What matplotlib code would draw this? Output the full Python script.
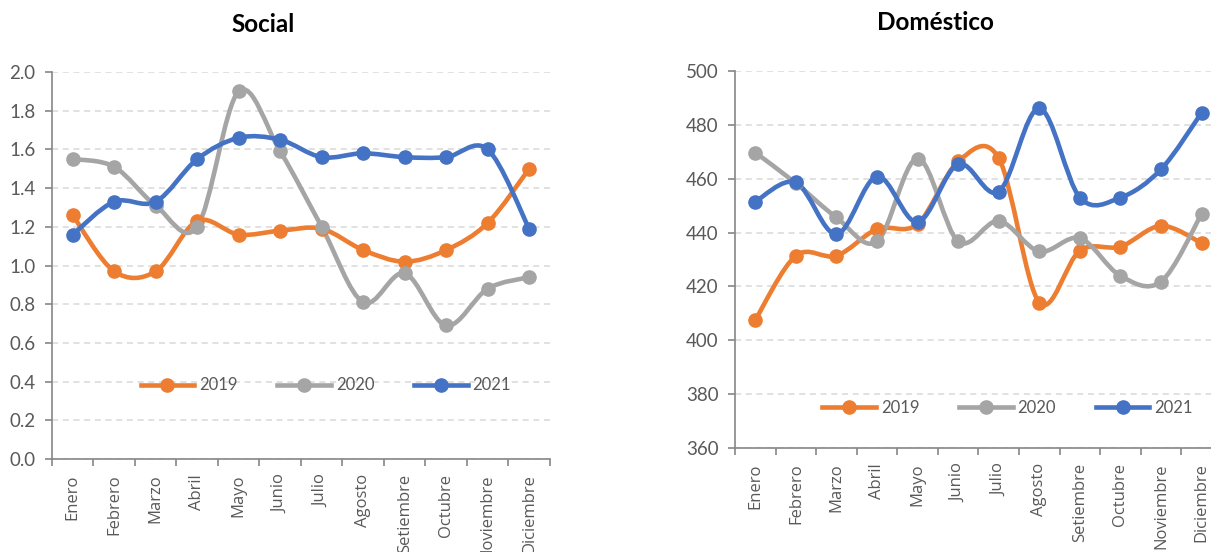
import matplotlib
matplotlib.use('Agg')
import matplotlib.pyplot as plt
from matplotlib.path import Path
from matplotlib.patches import PathPatch
from matplotlib.lines import Line2D
import numpy as np

plt.rcParams['font.family'] = ['Lato', 'DejaVu Sans']

meses = ['Enero', 'Febrero', 'Marzo', 'Abril', 'Mayo', 'Junio', 'Julio',
         'Agosto', 'Setiembre', 'Octubre', 'Noviembre', 'Diciembre']
anios = ['2019', '2020', '2021']

social_2019 = [1.26, 0.97, 0.97, 1.23, 1.16, 1.18, 1.19, 1.08, 1.02, 1.08, 1.22, 1.50]
social_2020 = [1.55, 1.51, 1.31, 1.20, 1.90, 1.59, 1.20, 0.81, 0.96, 0.69, 0.88, 0.94]
social_2021 = [1.16, 1.33, 1.33, 1.55, 1.66, 1.65, 1.56, 1.58, 1.56, 1.56, 1.60, 1.19]

dom_2019 = [407.6, 431.4, 431.4, 441.3, 443.2, 466.4, 467.6, 414.0, 433.3, 434.8, 442.5, 436.1]
dom_2020 = [469.7, 458.3, 445.6, 436.7, 467.5, 436.7, 444.3, 433.0, 437.9, 423.9, 421.8, 446.9]
dom_2021 = [451.5, 458.6, 439.4, 460.8, 443.9, 465.4, 455.2, 486.1, 453.0, 453.0, 463.5, 484.5]

colores = ['#ED7D31', '#A5A5A5', '#4472C4']
GRIS_TXT = '#595959'
GRIS_EJE = '#868686'


def smooth_path(x, y):
    # bezier tipo Excel (catmull-rom)
    pts = np.column_stack([x, y]).astype(float)
    n = len(pts)
    verts = [pts[0]]
    codes = [Path.MOVETO]
    for i in range(n - 1):
        p0 = pts[i - 1] if i > 0 else pts[i]
        p1 = pts[i]
        p2 = pts[i + 1]
        p3 = pts[i + 2] if i + 2 < n else pts[i + 1]
        c1 = p1 + (p2 - p0) / 6.0
        c2 = p2 - (p3 - p1) / 6.0
        verts += [c1, c2, p2]
        codes += [Path.CURVE4] * 3
    return Path(verts, codes)


def dibujar(ax, series, ylim, step, fmt, legend_xy):
    x = np.arange(len(meses))
    for vals, c in zip(series, colores):
        ax.add_patch(PathPatch(smooth_path(x, vals), facecolor='none',
                               edgecolor=c, lw=3.3, capstyle='round',
                               joinstyle='round'))
        ax.plot(x, vals, 'o', color=c, ms=9.5)
    ax.set_xlim(-0.5, len(meses) - 0.5)
    ax.set_ylim(*ylim)
    yt = np.arange(ylim[0], ylim[1] + step / 2, step)
    ax.set_yticks(yt)
    ax.set_yticklabels([fmt.format(v) for v in yt], fontsize=13.5, color=GRIS_TXT)
    ax.set_xticks(x)
    ax.set_xticklabels(meses, rotation=90, fontsize=12, color=GRIS_TXT,
                       family=['Open Sans', 'DejaVu Sans'])
    ax.set_xticks(np.arange(-0.5, len(meses)), minor=True)
    ax.tick_params(axis='x', which='major', length=0, pad=11)
    ax.tick_params(axis='x', which='minor', length=5, color=GRIS_EJE, width=1.2)
    ax.tick_params(axis='y', length=5, color=GRIS_EJE, width=1.2, pad=7)
    ax.grid(axis='y', color='#D9D9D9', ls=(0, (4, 3)), lw=1.1)
    ax.set_axisbelow(True)
    for s in ['top', 'right']:
        ax.spines[s].set_visible(False)
    for s in ['left', 'bottom']:
        ax.spines[s].set_color(GRIS_EJE)
        ax.spines[s].set_linewidth(1.2)
    handles = [Line2D([], [], color=c, lw=3.3, marker='o', ms=9.5) for c in colores]
    ax.legend(handles, anios, loc='center', bbox_to_anchor=legend_xy, ncol=3,
              frameon=False, fontsize=12, handlelength=3.2, columnspacing=2.4,
              handletextpad=0.3, labelcolor=GRIS_TXT)


fig = plt.figure(figsize=(12.11, 5.52), dpi=100)

ax1 = fig.add_axes([0.0429, 0.1685, 0.4112, 0.701])
dibujar(ax1, [social_2019, social_2020, social_2021], (0.0, 2.0), 0.2, '{:.1f}',
        (0.55, 0.19))
fig.text(263 / 1211, 1 - 25 / 552, 'Social', ha='center', va='center',
         fontsize=17.5, fontweight='bold')

ax2 = fig.add_axes([0.607, 0.1884, 0.402, 0.683])
dibujar(ax2, [dom_2019, dom_2020, dom_2021], (360, 500), 20, '{:.0f}',
        (0.56, 0.106))
fig.text(935 / 1211, 1 - 22 / 552, 'Doméstico', ha='center', va='center',
         fontsize=17.5, fontweight='bold')

fig.savefig('out.png', dpi=100, facecolor='white')
